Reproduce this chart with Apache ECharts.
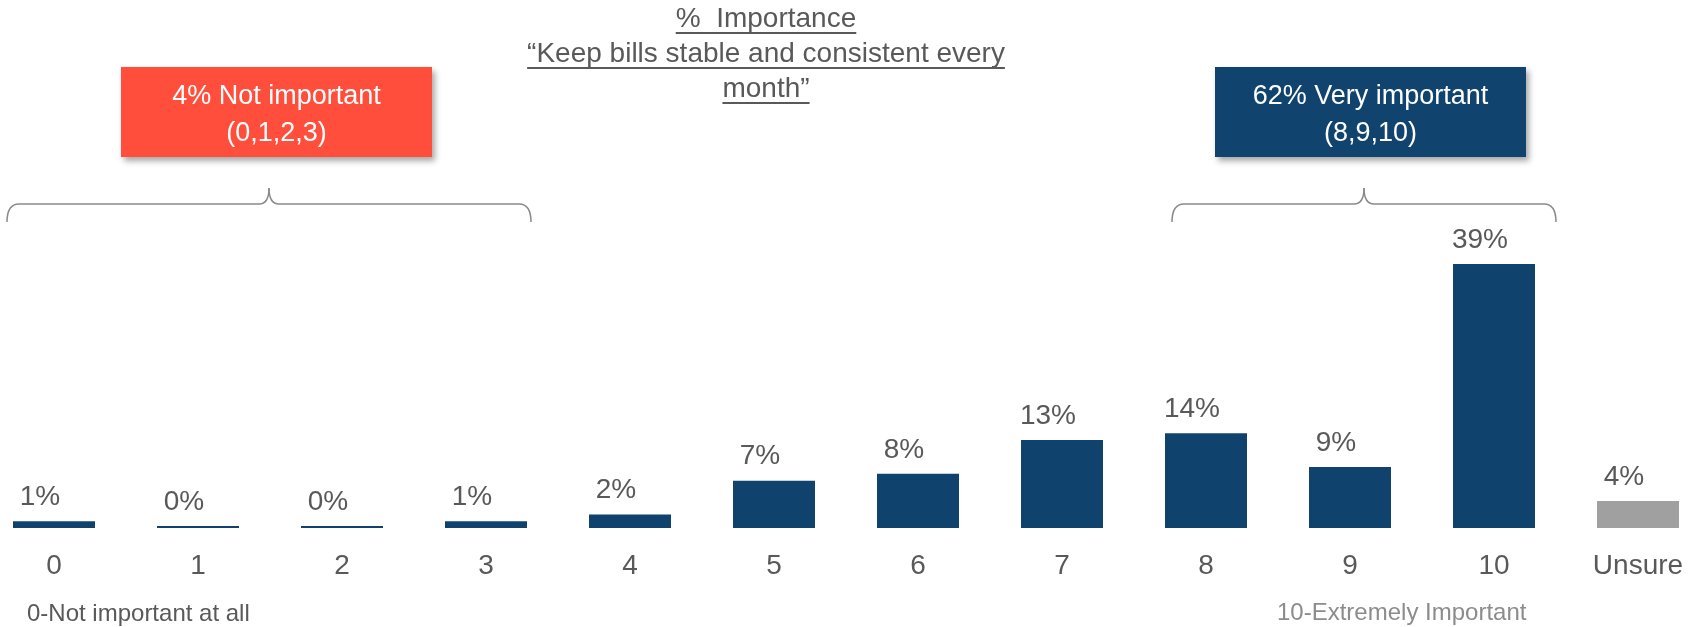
<!DOCTYPE html>
<html>
<head>
<meta charset="utf-8">
<title>% Importance – Keep bills stable and consistent every month</title>
<script src="https://cdn.jsdelivr.net/npm/echarts@6/dist/echarts.min.js"></script>
<style>
  html, body { margin: 0; padding: 0; background: #ffffff; }
  #chart { width: 1691px; height: 627px; }
</style>
</head>
<body>
<div id="chart"></div>
<script>
// Rating scale (0-10) plus "Unsure"
const categories = ['0', '1', '2', '3', '4', '5', '6', '7', '8', '9', '10', 'Unsure'];
// Share of respondents per rating, in percent
const values = [1, 0, 0, 1, 2, 7, 8, 13, 14, 9, 39, 4];
// Title lines
const titleLines = ['%  Importance', '\u201CKeep bills stable and consistent every', 'month\u201D'];
// Group call-outs
const lowGroupLines = ['4% Not important', '(0,1,2,3)'];
const highGroupLines = ['62% Very important', '(8,9,10)'];
// Scale end notes
const lowEndNote = '0-Not important at all';
const highEndNote = '10-Extremely Important';

const FONT = '"Liberation Sans", Arial, Helvetica, sans-serif';
const TEXT_GREY = '#595959';
const NAVY = '#0F436D';
const UNSURE_GREY = '#A0A0A0';

// measure text width for the title underlines
const measureCtx = document.createElement('canvas').getContext('2d');
function textWidth(str, size) {
  measureCtx.font = size + 'px ' + FONT;
  return measureCtx.measureText(str).width;
}

const chart = echarts.init(document.getElementById('chart'), null, { renderer: 'canvas' });

// Title: three centred, underlined lines
const titleCx = 766;
const titleBaselines = [29, 64, 99];
const titleGraphics = [];
titleLines.forEach((line, i) => {
  const base = titleBaselines[i];
  const w = textWidth(line, 28);
  titleGraphics.push({
    type: 'text',
    x: titleCx, y: base - 9.7,
    style: {
      text: line, fill: TEXT_GREY, font: '28px ' + FONT,
      align: 'center', verticalAlign: 'middle'
    }
  });
  titleGraphics.push({
    type: 'line',
    shape: { x1: titleCx - w / 2, y1: base + 4, x2: titleCx + w / 2, y2: base + 4 },
    style: { stroke: TEXT_GREY, lineWidth: 2 }
  });
});

// Call-out box with two centred lines of white text
function calloutBox(x, y, w, h, fill, lines) {
  return {
    type: 'group',
    children: [
      {
        type: 'rect',
        shape: { x: x, y: y, width: w, height: h },
        style: {
          fill: fill,
          shadowBlur: 6, shadowOffsetX: 3, shadowOffsetY: 4,
          shadowColor: 'rgba(0,0,0,0.35)'
        }
      },
      {
        type: 'text',
        x: x + w / 2, y: y + h / 2 + 3.5,
        style: {
          text: lines.join('\n'), fill: '#ffffff', font: '27px ' + FONT,
          align: 'center', verticalAlign: 'middle', lineHeight: 37
        }
      }
    ]
  };
}

// Curly brace spanning x0..x1, tip pointing up at the middle
function brace(x0, x1, yEnd, yBar, yTip) {
  const xm = (x0 + x1) / 2;
  const r = 12;
  const stroke = { fill: null, stroke: '#8A8A8A', lineWidth: 1.5 };
  const curve = (ax, ay, cx, cy, bx, by) => ({
    type: 'bezierCurve',
    shape: { x1: ax, y1: ay, cpx1: cx, cpy1: cy, x2: bx, y2: by },
    style: stroke
  });
  const seg = (ax, ay, bx, by) => ({
    type: 'line',
    shape: { x1: ax, y1: ay, x2: bx, y2: by },
    style: stroke
  });
  return {
    type: 'group',
    children: [
      curve(x0, yEnd, x0, yBar, x0 + r, yBar),
      seg(x0 + r, yBar, xm - 10, yBar),
      curve(xm - 10, yBar, xm, yBar, xm, yTip),
      curve(xm, yTip, xm, yBar, xm + 10, yBar),
      seg(xm + 10, yBar, x1 - r, yBar),
      curve(x1 - r, yBar, x1, yBar, x1, yEnd)
    ]
  };
}

const option = {
  backgroundColor: '#ffffff',
  animation: false,
  grid: {
    left: -18, right: -19, top: 122, bottom: 99,
    containLabel: false,
    outerBoundsMode: 'none'
  },
  xAxis: {
    type: 'category',
    data: categories,
    axisLine: { show: false },
    axisTick: { show: false },
    splitLine: { show: false },
    axisLabel: {
      color: TEXT_GREY,
      fontSize: 28,
      fontFamily: FONT,
      margin: 24,
      interval: 0
    }
  },
  yAxis: {
    type: 'value',
    min: 0, max: 60,
    show: false,
    splitLine: { show: false }
  },
  series: [{
    type: 'bar',
    data: values,
    barWidth: 82,
    barMinHeight: 2,
    itemStyle: {
      color: p => (categories[p.dataIndex] === 'Unsure' ? UNSURE_GREY : NAVY)
    },
    label: {
      show: true,
      position: 'top',
      distance: 10,
      offset: [-14, 0],
      formatter: '{c}%',
      color: TEXT_GREY,
      fontSize: 28,
      fontFamily: FONT
    }
  }],
  graphic: [
    ...titleGraphics,
    calloutBox(121, 67, 311, 90, '#FF4F3C', lowGroupLines),
    calloutBox(1215, 67, 311, 90, '#10446E', highGroupLines),
    brace(7, 531, 222, 204, 188),
    brace(1172, 1556, 222, 204, 188),
    {
      type: 'text',
      x: 27, y: 623 - 8.3,
      style: {
        text: lowEndNote, fill: TEXT_GREY, font: '24px ' + FONT,
        align: 'left', verticalAlign: 'middle'
      }
    },
    {
      type: 'text',
      x: 1277, y: 622 - 8.3,
      style: {
        text: highEndNote, fill: '#8C8C8C', font: '24px ' + FONT,
        align: 'left', verticalAlign: 'middle'
      }
    }
  ]
};

chart.setOption(option);
</script>
</body>
</html>
